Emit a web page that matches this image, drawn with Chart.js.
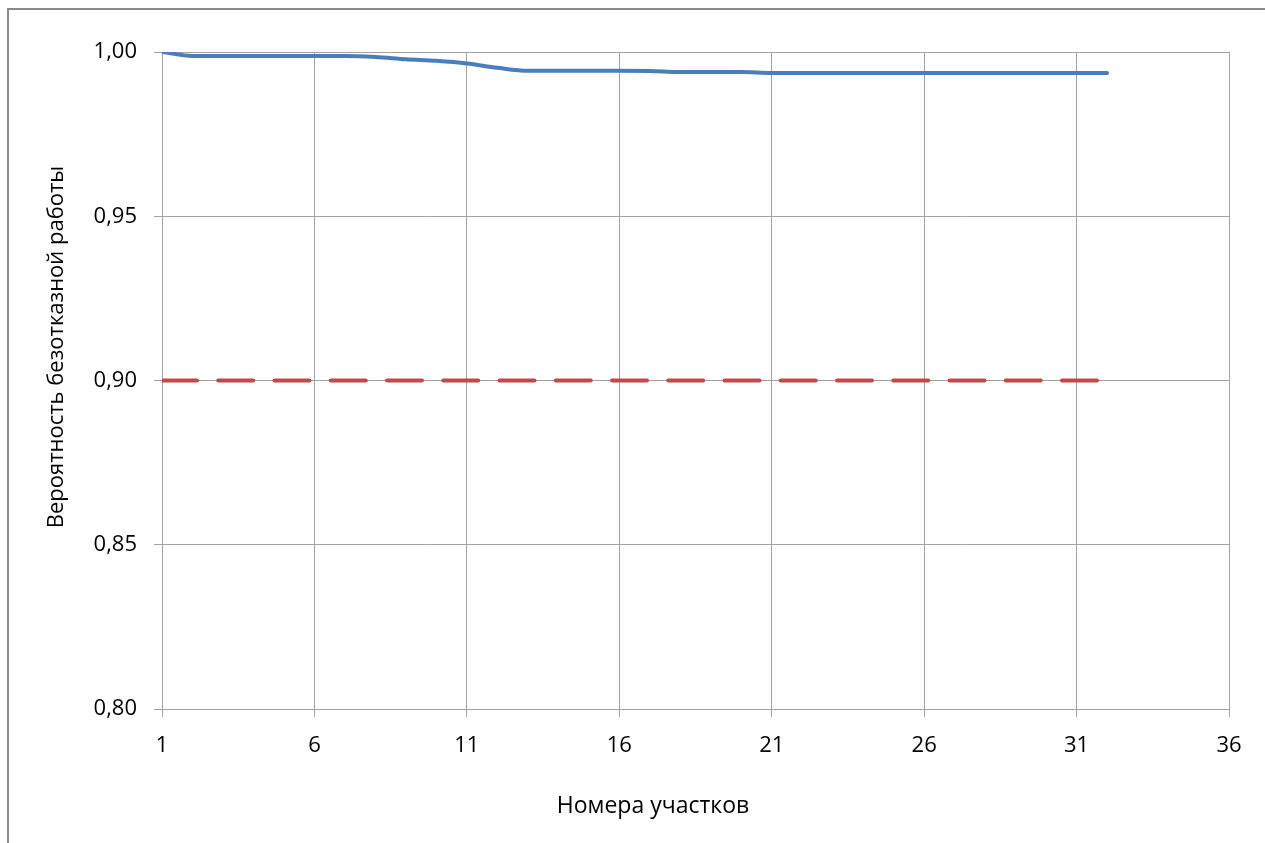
<!DOCTYPE html>
<html>
<head>
<meta charset="utf-8">
<script src="https://cdn.jsdelivr.net/npm/chart.js@4/dist/chart.umd.min.js"></script>
<style>
  html, body { margin: 0; padding: 0; background: #fff; overflow: hidden; }
  #frame { position: absolute; left: 7px; top: 8px; width: 1400px; height: 1000px; border: 2px solid #8a8a8a; box-sizing: border-box; }
  #wrap { position: absolute; left: 0; top: 0; width: 1265px; height: 843px; }
</style>
</head>
<body>
<div id="frame"></div>
<div id="wrap"><canvas id="c" width="1265" height="843"></canvas></div>
<script>
const sections = [1,2,3,4,5,6,7,8,9,10,11,12,13,14,15,16,17,18,19,20,21,22,23,24,25,26,27,28,29,30,31,32];
const reliability = [1.0000,0.9988,0.9988,0.9988,0.9988,0.9988,0.9988,0.9985,0.9978,0.9973,0.9965,0.9952,0.9943,0.9943,0.9943,0.9943,0.9942,0.9939,0.9939,0.9939,0.9936,0.9936,0.9936,0.9936,0.9936,0.9936,0.9936,0.9936,0.9936,0.9936,0.9936,0.9936];
const threshold = [0.9,0.9,0.9,0.9,0.9,0.9,0.9,0.9,0.9,0.9,0.9,0.9,0.9,0.9,0.9,0.9,0.9,0.9,0.9,0.9,0.9,0.9,0.9,0.9,0.9,0.9,0.9,0.9,0.9,0.9,0.9,0.9];
const xTicks = [1,6,11,16,21,26,31,36];
const yTicks = [0.80,0.85,0.90,0.95,1.00];
const xTitle = 'Номера участков';
const yTitle = 'Вероятность безотказной работы';

const FONT = '"Open Sans", Lato, sans-serif';
const GRID = '#a3a3a3';

const titlesPlugin = {
  id: 'axisTitles',
  afterDraw(chart) {
    const ctx = chart.ctx;
    ctx.save();
    ctx.fillStyle = '#000';
    ctx.textAlign = 'center';
    ctx.textBaseline = 'alphabetic';
    ctx.font = '23px ' + FONT;
    ctx.fillText(xTitle, 653, 813);
    ctx.font = '22px ' + FONT;
    ctx.translate(63, 347);
    ctx.rotate(-Math.PI / 2);
    ctx.fillText(yTitle, 0, 0);
    ctx.restore();
  }
};

new Chart(document.getElementById('c'), {
  type: 'line',
  data: {
    datasets: [
      {
        label: 'P',
        data: sections.map((s, i) => ({x: s, y: reliability[i]})),
        borderColor: '#4a7ebb',
        borderWidth: 4,
        pointRadius: 0,
        cubicInterpolationMode: 'monotone',
        borderCapStyle: 'round',
        borderJoinStyle: 'round',
        fill: false
      },
      {
        label: 'Pн',
        data: sections.map((s, i) => ({x: s, y: threshold[i]})),
        borderColor: '#be4b48',
        borderWidth: 4,
        borderDash: [35, 21.25],
        borderCapStyle: 'round',
        pointRadius: 0,
        fill: false
      }
    ]
  },
  options: {
    responsive: false,
    animation: false,
    layout: { padding: { left: 0, top: 52, right: 36, bottom: 0 } },
    plugins: { legend: { display: false }, tooltip: { enabled: false } },
    scales: {
      x: {
        type: 'linear',
        min: 1, max: 36,
        afterBuildTicks: s => { s.ticks = xTicks.map(v => ({value: v})); },
        afterFit: s => { s.height = 843 - 709; },
        grid: { color: GRID, lineWidth: 1, tickLength: 8, drawTicks: true },
        border: { color: GRID, width: 1 },
        ticks: { font: { family: FONT, size: 22 }, color: '#000', padding: 16, maxRotation: 0, callback: v => String(v) }
      },
      y: {
        type: 'linear',
        min: 0.8, max: 1.0,
        afterBuildTicks: s => { s.ticks = yTicks.map(v => ({value: v})); },
        afterFit: s => { s.width = 162; },
        grid: { color: GRID, lineWidth: 1, tickLength: 8, drawTicks: true },
        border: { color: GRID, width: 1 },
        ticks: { font: { family: FONT, size: 22 }, color: '#000', padding: 17, callback: v => Number(v).toFixed(2).replace('.', ',') }
      }
    }
  },
  plugins: [titlesPlugin]
});
</script>
</body>
</html>
